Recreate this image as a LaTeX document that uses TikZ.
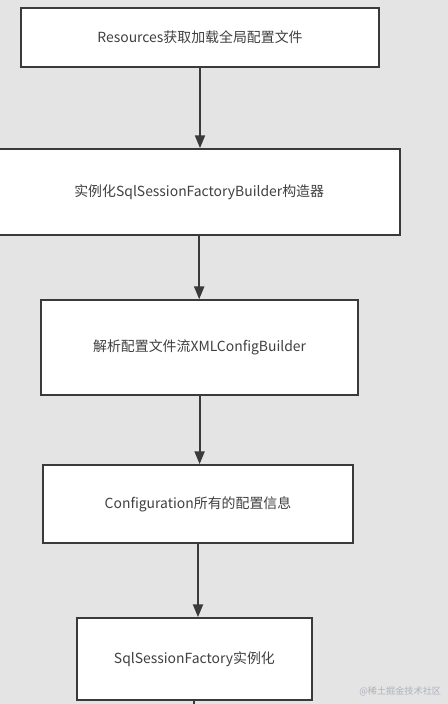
\documentclass[tikz,border=0pt]{standalone}
\usepackage{fontspec}
\setmainfont{Noto Sans CJK SC}
\usepackage{xcolor}
\usetikzlibrary{arrows.meta,positioning,calc}
\definecolor{ink}{HTML}{3A3A3A}
\definecolor{textgray}{HTML}{404040}
\definecolor{canvas}{HTML}{E4E4E4}
\definecolor{mark}{HTML}{ADB2BA}
\tikzset{
  >={Triangle[length=3.2mm,width=2.5mm]},
  flow/.style={->,draw=ink,line width=1.4pt},
  stepbox/.style={draw=ink,fill=white,line width=1.2pt,font=\fontsize{9.9}{11}\selectfont,text=textgray,inner sep=0pt},
  watermark/.style={font=\fontsize{6.5}{7}\selectfont,text=mark},
}

\begin{document}
\begin{tikzpicture}[x=1cm,y=1cm]

% canvas ------------------------------------------------------------------------
\fill[canvas] (0,0) rectangle (11.2,17.6);
\useasboundingbox (0,0) rectangle (11.2,17.6);

% steps -------------------------------------------------------------------------
\node[stepbox,minimum width=8.95cm,minimum height=1.475cm] (res) at (5.00,16.66) {Resources获取加载全局配置文件};
\node[stepbox,minimum width=10.05cm,minimum height=2.15cm] (builder) at (4.98,12.80) {实例化SqlSessionFactoryBuilder构造器};
\node[stepbox,minimum width=7.925cm,minimum height=2.375cm] (xml) at (4.99,8.91) {解析配置文件流XMLConfigBuilder};
\node[stepbox,minimum width=7.75cm,minimum height=1.95cm] (config) at (4.95,5.00) {Configuration所有的配置信息};
\node[stepbox,minimum width=5.875cm,minimum height=2.05cm] (factory) at (4.86,1.125) {SqlSessionFactory实例化};
\coordinate (out) at (factory.south |- 0,-0.1);

% connectors --------------------------------------------------------------------
\draw[flow] (res.south) -- (res.south |- builder.north);
\draw[flow] (builder.south) -- (builder.south |- xml.north);
\draw[flow] (xml.south) -- (xml.south |- config.north);
\draw[flow] (config.south) -- (config.south |- factory.north);
\draw[draw=ink,line width=1.4pt] (factory.south) -- (out);

\node[watermark,anchor=south east] (wm) at (11.15,0.08) {@稀土掘金技术社区};

\end{tikzpicture}
\end{document}
